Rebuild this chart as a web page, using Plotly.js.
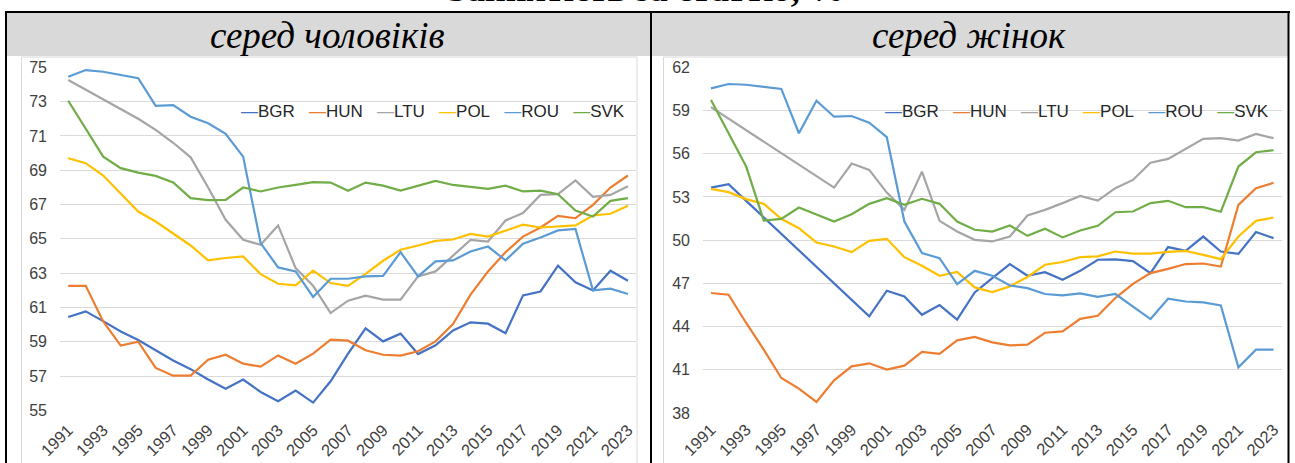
<!DOCTYPE html>
<html>
<head>
<meta charset="utf-8">
<script src="https://cdn.plot.ly/plotly-3.0.1.min.js"></script>
<style>
  html, body { margin: 0; padding: 0; background: #ffffff; }
  #chart { width: 1295px; height: 463px; }
</style>
</head>
<body>
<div id="chart"></div>
<script>
// ---------- data ----------
const years = [1991,1992,1993,1994,1995,1996,1997,1998,1999,2000,2001,2002,2003,2004,2005,2006,2007,2008,2009,2010,2011,2012,2013,2014,2015,2016,2017,2018,2019,2020,2021,2022,2023];
const countries = ['BGR','HUN','LTU','POL','ROU','SVK'];
const xTickLabels = ['1991','1993','1995','1997','1999','2001','2003','2005','2007','2009','2011','2013','2015','2017','2019','2021','2023'];

// employment rate, men (%)
const BGR_m = [60.44,60.77,60.2,59.6,59.1,58.5,57.9,57.4,56.8,56.26,56.79,56.07,55.53,56.15,55.45,56.69,58.30,59.78,59.02,59.47,58.28,58.79,59.66,60.13,60.05,59.49,61.70,61.93,63.43,62.46,61.99,63.14,62.55];
const HUN_m = [62.26,62.26,60.18,58.77,59.00,57.47,57.02,57.02,57.95,58.24,57.72,57.55,58.20,57.72,58.30,59.12,59.06,58.50,58.24,58.19,58.44,59.02,60.03,61.74,63.10,64.22,65.13,65.66,66.34,66.20,66.98,67.99,68.69];
const LTU_m = [74.26,73.7,73.15,72.6,72.0,71.35,70.6,69.75,67.99,66.11,64.94,64.65,65.78,63.29,62.26,60.67,61.39,61.68,61.45,61.45,62.81,63.10,64.01,64.94,64.84,66.07,66.50,67.56,67.60,68.40,67.45,67.56,68.07];
const POL_m = [69.70,69.41,68.69,67.65,66.59,66.01,65.33,64.61,63.74,63.88,63.97,62.94,62.38,62.28,63.14,62.42,62.26,62.96,63.72,64.36,64.61,64.88,64.96,65.29,65.13,65.47,65.82,65.66,65.72,65.78,66.36,66.46,66.93];
const ROU_m = [74.45,74.84,74.74,74.55,74.36,72.75,72.80,72.12,71.74,71.12,69.79,64.75,63.33,63.10,61.61,62.67,62.67,62.81,62.84,64.22,62.81,63.68,63.74,64.26,64.55,63.74,64.71,65.08,65.49,65.57,61.99,62.09,61.78];
const SVK_m = [73.05,71.4,69.79,69.12,68.86,68.67,68.28,67.37,67.25,67.27,67.99,67.76,67.99,68.14,68.30,68.28,67.80,68.28,68.10,67.81,68.09,68.38,68.14,68.03,67.91,68.10,67.76,67.81,67.60,66.65,66.30,67.21,67.37];

// employment rate, women (%)
const BGR_w = [53.65,53.88,52.73,51.59,50.44,49.3,48.15,47.0,45.86,44.71,46.49,46.09,44.82,45.49,44.48,46.37,47.37,48.34,47.53,47.78,47.25,47.87,48.64,48.66,48.55,47.71,49.52,49.26,50.25,49.21,49.05,50.56,50.14];
const HUN_w = [46.33,46.21,44.25,42.40,40.43,39.69,38.77,40.27,41.24,41.45,41.01,41.29,42.24,42.10,43.04,43.28,42.90,42.69,42.74,43.57,43.66,44.54,44.75,45.98,46.97,47.71,48.01,48.34,48.38,48.17,52.45,53.61,53.98];
const LTU_w = [59.23,58.43,57.64,56.84,56.04,55.24,54.45,53.65,55.32,54.88,53.3,52.10,54.76,51.34,50.60,50.02,49.91,50.25,51.71,52.10,52.57,53.07,52.75,53.61,54.18,55.38,55.64,56.33,57.03,57.08,56.91,57.37,57.08];
const POL_w = [53.56,53.33,52.85,52.52,51.48,50.83,49.84,49.56,49.17,49.95,50.09,48.82,48.22,47.53,47.80,46.72,46.40,46.79,47.44,48.29,48.48,48.82,48.87,49.21,49.07,49.07,49.19,49.26,48.98,48.68,50.25,51.34,51.57];
const ROU_w = [60.54,60.84,60.79,60.65,60.50,57.42,59.68,58.57,58.62,58.16,57.15,51.29,49.10,48.75,46.95,47.87,47.53,46.85,46.67,46.26,46.16,46.30,46.07,46.26,45.40,44.52,45.93,45.74,45.68,45.47,41.17,42.40,42.40];
const SVK_w = [59.73,57.42,55.11,51.36,51.48,52.26,51.76,51.29,51.80,52.52,52.91,52.45,52.87,52.52,51.29,50.72,50.60,51.02,50.30,50.79,50.19,50.67,51.00,51.94,51.99,52.57,52.73,52.29,52.29,51.97,55.11,56.10,56.24];

const menSeries = [BGR_m, HUN_m, LTU_m, POL_m, ROU_m, SVK_m];
const womenSeries = [BGR_w, HUN_w, LTU_w, POL_w, ROU_w, SVK_w];

const titleText = 'Зайнятість за статтю, %';
const panelTitles = ['серед чоловіків', 'серед жінок'];

// ---------- styling ----------
const colors = ['#4472C4','#ED7D31','#A5A5A5','#FFC000','#5B9BD5','#70AD47'];
const W = 1295, H = 463;
const px = v => v / W;
const py = v => 1 - v / H;
const FONT = 'Liberation Sans, Arial, sans-serif';
const SERIF = 'Liberation Serif, Times New Roman, serif';
const tickColor = '#404040';

const traces = [];
countries.forEach((c, i) => {
  traces.push({x: years, y: menSeries[i], name: c, type: 'scatter', mode: 'lines',
    line: {color: colors[i], width: 2.2}, xaxis: 'x', yaxis: 'y', showlegend: false, hoverinfo: 'x+y+name'});
});
countries.forEach((c, i) => {
  traces.push({x: years, y: womenSeries[i], name: c, type: 'scatter', mode: 'lines',
    line: {color: colors[i], width: 2.2}, xaxis: 'x2', yaxis: 'y2', showlegend: false, hoverinfo: 'x+y+name'});
});

const xTickVals = xTickLabels.map(Number);

function xAxis(domain, range, anchor, standoff) {
  return {domain: domain, range: range, anchor: anchor, type: 'linear',
    tickmode: 'array', tickvals: xTickVals, ticktext: xTickLabels, tickangle: -45,
    showgrid: false, zeroline: false, showline: false, ticks: '',
    ticklabelstandoff: standoff,
    tickfont: {family: FONT, size: 16.5, color: tickColor}, fixedrange: true};
}
function yAxis(domain, range, dtick, anchor) {
  return {domain: domain, range: range, anchor: anchor, tick0: range[0], dtick: dtick,
    showgrid: true, gridcolor: '#D9D9D9', gridwidth: 1, zeroline: false, showline: false, ticks: '',
    ticklabelstandoff: 12,
    tickfont: {family: FONT, size: 16, color: tickColor}, fixedrange: true};
}

// legend built as text, one per panel
const legendText = countries.map((c, i) =>
  '<span style="color:' + colors[i] + '">\u2014</span>' + c).join('\u00A0\u00A0\u00A0');

const shapes = [
  // gray header bands
  {type: 'rect', xref: 'paper', yref: 'paper', x0: px(6), x1: px(650), y0: py(56), y1: py(12), fillcolor: '#D9D9D9', line: {width: 0}, layer: 'below'},
  {type: 'rect', xref: 'paper', yref: 'paper', x0: px(652), x1: px(1288), y0: py(56), y1: py(12), fillcolor: '#D9D9D9', line: {width: 0}, layer: 'below'},
  // chart area borders (light)
  {type: 'line', xref: 'paper', yref: 'paper', x0: px(21.5), x1: px(21.5), y0: py(463), y1: py(57), line: {color: '#D9D9D9', width: 1}},
  {type: 'line', xref: 'paper', yref: 'paper', x0: px(21.5), x1: px(637), y0: py(57), y1: py(57), line: {color: '#D9D9D9', width: 1}},
  {type: 'line', xref: 'paper', yref: 'paper', x0: px(637), x1: px(637), y0: py(463), y1: py(57), line: {color: '#D9D9D9', width: 1}},
  {type: 'line', xref: 'paper', yref: 'paper', x0: px(663.5), x1: px(663.5), y0: py(463), y1: py(57), line: {color: '#D9D9D9', width: 1}},
  {type: 'line', xref: 'paper', yref: 'paper', x0: px(663.5), x1: px(1287), y0: py(57), y1: py(57), line: {color: '#D9D9D9', width: 1}},
  // black frame
  {type: 'line', xref: 'paper', yref: 'paper', x0: px(5), x1: px(1290), y0: py(12), y1: py(12), line: {color: '#000000', width: 2}},
  {type: 'line', xref: 'paper', yref: 'paper', x0: px(6), x1: px(6), y0: py(463), y1: py(12), line: {color: '#000000', width: 2}},
  {type: 'line', xref: 'paper', yref: 'paper', x0: px(651), x1: px(651), y0: py(463), y1: py(12), line: {color: '#000000', width: 2}},
  {type: 'line', xref: 'paper', yref: 'paper', x0: px(1288.5), x1: px(1288.5), y0: py(463), y1: py(12), line: {color: '#000000', width: 2}}
];

const annotations = [
  {text: '<b>' + titleText + '</b>', xref: 'paper', yref: 'paper', x: px(646), y: py(11), xanchor: 'center', yanchor: 'bottom',
    showarrow: false, font: {family: SERIF, size: 36, color: '#000000'}},
  {text: '<i>' + panelTitles[0] + '</i>', xref: 'paper', yref: 'paper', x: px(327), y: py(35), xanchor: 'center', yanchor: 'middle',
    showarrow: false, font: {family: SERIF, size: 37, color: '#000000'}},
  {text: '<i>' + panelTitles[1] + '</i>', xref: 'paper', yref: 'paper', x: px(969), y: py(35), xanchor: 'center', yanchor: 'middle',
    showarrow: false, font: {family: SERIF, size: 37, color: '#000000'}},
  {text: legendText, xref: 'paper', yref: 'paper', x: px(239), y: py(111.5), xanchor: 'left', yanchor: 'middle',
    showarrow: false, font: {family: FONT, size: 17, color: '#262626'}},
  {text: legendText, xref: 'paper', yref: 'paper', x: px(883), y: py(111.5), xanchor: 'left', yanchor: 'middle',
    showarrow: false, font: {family: FONT, size: 17, color: '#262626'}}
];

const layout = {
  width: W, height: H,
  margin: {l: 0, r: 0, t: 0, b: 0},
  paper_bgcolor: '#ffffff', plot_bgcolor: 'rgba(0,0,0,0)',
  showlegend: false,
  xaxis: xAxis([px(60), px(636)], [1990.53, 2023.46], 'y', 6),
  yaxis: yAxis([py(410.3), py(67.3)], [55, 75], 2, 'x'),
  xaxis2: xAxis([px(703), px(1282)], [1990.545, 2023.48], 'y2', 3),
  yaxis2: yAxis([py(413), py(67.3)], [38, 62], 3, 'x2'),
  shapes: shapes,
  annotations: annotations
};

Plotly.newPlot('chart', traces, layout, {staticPlot: true, displayModeBar: false});
</script>
</body>
</html>
